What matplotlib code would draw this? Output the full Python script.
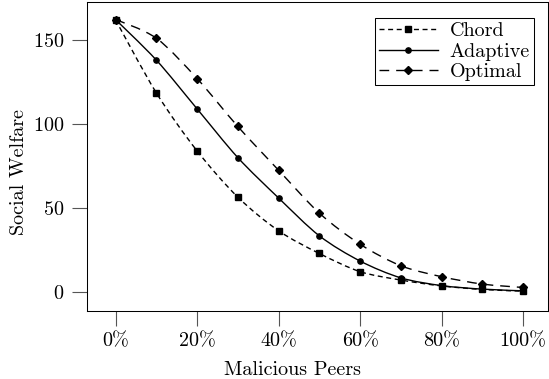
import matplotlib
matplotlib.use("Agg")
import matplotlib.pyplot as plt
from matplotlib.path import Path
from matplotlib.patches import PathPatch
from matplotlib.lines import Line2D
import numpy as np

plt.rcParams['font.family'] = 'serif'
plt.rcParams['font.serif'] = ['cmr10', 'DejaVu Serif']
plt.rcParams['mathtext.fontset'] = 'cm'
plt.rcParams['axes.formatter.use_mathtext'] = True

x_vals = [0, 10, 20, 30, 40, 50, 60, 70, 80, 90, 100]
chord = [162, 118.5, 84, 56.5, 36.5, 23, 12.2, 7.2, 3.7, 1.6, 0.6]
adaptive = [162, 138, 109, 80, 56, 33.5, 18.5, 8.5, 3.9, 1.8, 0.8]
optimal = [162, 151, 127, 98.5, 72.5, 47, 28.5, 15.7, 9.2, 4.8, 2.8]
series_names = ['Chord', 'Adaptive', 'Optimal']
x_ticks = [0, 20, 40, 60, 80, 100]
x_tick_labels = ['0%', '20%', '40%', '60%', '80%', '100%']
y_ticks = [0, 50, 100, 150]

FS = 14.5
W, H = 549, 379
fig = plt.figure(figsize=(W / 100, H / 100), dpi=100)
ax = fig.add_axes([87 / W, (379 - 311) / H, (548 - 87) / W, (311 - 2) / H])


def smooth_path(xs, ys, tension=0.55):
    pts = np.column_stack([xs, ys]).astype(float)
    f = 0.2775 * tension
    n = len(pts)
    verts = [pts[0]]
    codes = [Path.MOVETO]
    for i in range(n - 1):
        p0 = pts[i]
        p1 = pts[i + 1]
        if i == 0:
            c1 = p0
        else:
            c1 = p0 + f * (pts[i + 1] - pts[i - 1])
        if i + 1 == n - 1:
            c2 = p1
        else:
            c2 = p1 - f * (pts[i + 2] - pts[i])
        verts += [c1, c2, p1]
        codes += [Path.CURVE4] * 3
    return Path(verts, codes)


styles = [
    dict(data=chord, marker='s', ms=4.4, dashes=(3.6, 2.6)),
    dict(data=adaptive, marker='o', ms=3.8, dashes=None),
    dict(data=optimal, marker='D', ms=3.9, dashes=(7, 5)),
]
lw = 1.0
handles = []
for name, st in zip(series_names, styles):
    ls = (0, st['dashes']) if st['dashes'] else '-'
    path = smooth_path(x_vals, st['data'])
    patch = PathPatch(path, facecolor='none', edgecolor='black', lw=lw,
                      linestyle=ls, capstyle='butt')
    ax.add_patch(patch)
    ax.plot(x_vals, st['data'], linestyle='none', marker=st['marker'],
            ms=st['ms'], color='black', zorder=3)
    h = Line2D([], [], color='black', lw=lw, linestyle=ls,
               marker=st['marker'], ms=st['ms'])
    handles.append(h)

ax.set_xlim(-7.0, 106.1)
ax.set_ylim(-11.2, 172.5)
ax.set_xticks(x_ticks)
ax.set_xticklabels(x_tick_labels)
ax.set_yticks(y_ticks)
ax.tick_params(axis='both', which='both', direction='out', length=11,
               width=0.8, color='#555555', labelsize=FS,
               top=False, right=False)
ax.tick_params(axis='x', pad=4.5)
ax.tick_params(axis='y', pad=5.5)
for s in ax.spines.values():
    s.set_linewidth(0.75)

ax.set_xlabel('Malicious Peers', fontsize=FS)
ax.xaxis.label.set_va('baseline')
ax.xaxis.set_label_coords(293 / W, 4 / H, transform=fig.transFigure)
ax.set_ylabel('Social Welfare', fontsize=FS)
ax.yaxis.label.set_va('baseline')
ax.yaxis.set_label_coords(24 / W, 1 - 172 / H, transform=fig.transFigure)

leg = ax.legend(handles, series_names, loc='upper right', fontsize=FS,
                numpoints=1, handlelength=2.9, handletextpad=0.6,
                labelspacing=0.12, borderpad=0.2, borderaxespad=0.0,
                fancybox=False, framealpha=1, edgecolor='black',
                bbox_to_anchor=(534 / W, 1 - 18 / H),
                bbox_transform=fig.transFigure)
leg.get_frame().set_linewidth(0.75)

fig.savefig('out.png', dpi=100)
